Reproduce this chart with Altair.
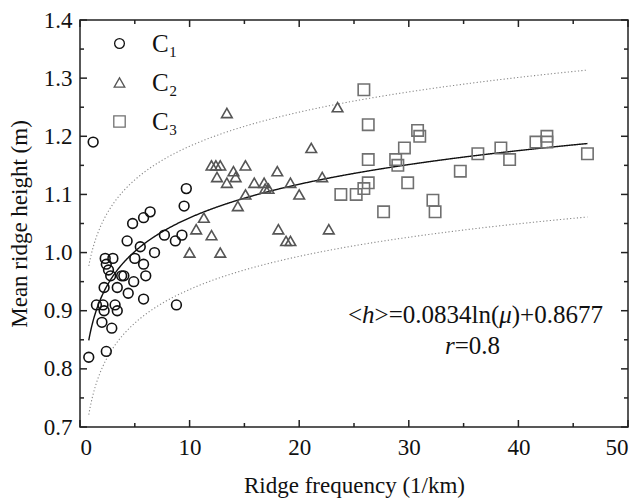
import altair as alt
import pandas as pd

# ---------------- data ----------------
groups = ["C₁", "C₂", "C₃"]

c1_freq = [1.2, 9.7, 9.5, 6.4, 5.8, 4.8, 4.3, 7.7, 9.3, 8.7, 5.5, 6.8, 5.0, 5.8,
           2.3, 3.0, 2.4, 2.6, 2.8, 3.8, 4.0, 6.0, 4.9, 2.2, 3.4, 4.4, 5.8, 1.5,
           2.1, 3.2, 2.2, 3.4, 8.8, 2.0, 2.9, 2.4, 0.8]
c1_height = [1.19, 1.11, 1.08, 1.07, 1.06, 1.05, 1.02, 1.03, 1.03, 1.02, 1.01, 1.00, 0.99, 0.98,
             0.99, 0.99, 0.98, 0.97, 0.96, 0.96, 0.96, 0.96, 0.95, 0.94, 0.94, 0.93, 0.92, 0.91,
             0.91, 0.91, 0.90, 0.90, 0.91, 0.88, 0.87, 0.83, 0.82]

c2_freq = [13.4, 21.1, 23.5, 12.0, 12.4, 12.8, 15.1, 14.0, 12.5, 14.2, 13.4, 18.0, 15.9, 16.8,
           19.2, 22.1, 16.9, 17.2, 20.0, 15.1, 14.4, 11.3, 10.6, 12.0, 18.1, 18.8, 19.2, 22.7,
           10.0, 12.8]
c2_height = [1.24, 1.18, 1.25, 1.15, 1.15, 1.15, 1.15, 1.14, 1.13, 1.13, 1.12, 1.14, 1.12, 1.12,
             1.12, 1.13, 1.11, 1.11, 1.10, 1.10, 1.08, 1.06, 1.04, 1.03, 1.04, 1.02, 1.02, 1.04,
             1.00, 1.00]

c3_freq = [25.9, 26.3, 30.8, 31.0, 29.6, 26.3, 28.8, 29.0, 36.3, 34.7, 26.3, 25.9, 25.2, 23.8,
           29.9, 32.2, 32.4, 27.7, 38.4, 39.2, 41.6, 42.6, 42.6, 46.3]
c3_height = [1.28, 1.22, 1.21, 1.20, 1.18, 1.16, 1.16, 1.15, 1.17, 1.14, 1.12, 1.11, 1.10, 1.10,
             1.12, 1.09, 1.07, 1.07, 1.18, 1.16, 1.19, 1.20, 1.19, 1.17]

# fitted curve shown on the chart: <h> = a ln(mu) + b
fit_a = 0.0834
fit_b = 0.8677
fit_from, fit_to = 0.8, 46.3

x_major = [0, 10, 20, 30, 40, 50]
x_minor = [5, 15, 25, 35, 45]
y_major = [0.7, 0.8, 0.9, 1.0, 1.1, 1.2, 1.3, 1.4]
y_minor = [0.75, 0.85, 0.95, 1.05, 1.15, 1.25, 1.35]

# ---------------- build tables ----------------
pts = pd.concat([
    pd.DataFrame({"freq": c1_freq, "height": c1_height, "group": groups[0]}),
    pd.DataFrame({"freq": c2_freq, "height": c2_height, "group": groups[1]}),
    pd.DataFrame({"freq": c3_freq, "height": c3_height, "group": groups[2]}),
], ignore_index=True)

W, H = 548, 407
FONT = "Liberation Serif"

xs = alt.Scale(domain=[0, 50], nice=False, zero=False)
ys = alt.Scale(domain=[0.7, 1.4], nice=False, zero=False)

x_axis = alt.Axis(values=x_major, ticks=False, domain=False, grid=False,
                  labelPadding=9, titlePadding=15, format="d",
                  title="Ridge frequency (1/km)")
y_axis = alt.Axis(values=y_major, ticks=False, domain=False, grid=False,
                  labelPadding=8, titlePadding=12, format=".1f",
                  title="Mean ridge height (m)")


def X(field):
    return alt.X(field, type="quantitative", scale=xs, axis=x_axis)


def Y(field):
    return alt.Y(field, type="quantitative", scale=ys, axis=y_axis)


# prediction band and fit
curve_base = alt.Chart(alt.sequence(fit_from, fit_to + 0.01, 0.05, as_="mu")).transform_calculate(
    h=f"{fit_a}*log(datum.mu)+{fit_b}",
    hw="0.123+0.001*pow(log(datum.mu)-2.0,2)",
).transform_calculate(
    up="datum.h+datum.hw",
    lo="datum.h-datum.hw",
)

fit_line = curve_base.mark_line(color="#111", strokeWidth=1.4).encode(x=X("mu"), y=Y("h"))
up_line = curve_base.mark_line(color="#888", strokeWidth=1.1, strokeDash=[1.2, 2.2]).encode(x=X("mu"), y=Y("up"))
lo_line = curve_base.mark_line(color="#888", strokeWidth=1.1, strokeDash=[1.2, 2.2]).encode(x=X("mu"), y=Y("lo"))

points = alt.Chart(pts).mark_point(filled=False, opacity=1, strokeWidth=1.6).encode(
    x=X("freq"),
    y=Y("height"),
    shape=alt.Shape("group:N",
                    scale=alt.Scale(domain=groups, range=["circle", "triangle-up", "square"]),
                    legend=alt.Legend(title=None)),
    color=alt.Color("group:N",
                    scale=alt.Scale(domain=groups, range=["#111111", "#555555", "#707070"]),
                    legend=alt.Legend(title=None)),
    size=alt.Size("group:N",
                  scale=alt.Scale(domain=groups, range=[95, 130, 85]),
                  legend=None),
)

# inward ticks on all four sides
xmaj = pd.DataFrame({"v": x_major})
xmin = pd.DataFrame({"v": x_minor})
ymaj = pd.DataFrame({"v": y_major})
ymin = pd.DataFrame({"v": y_minor})
tick_style = dict(color="#222", strokeWidth=1.5)
ticks = [
    alt.Chart(xmaj).mark_rule(**tick_style).encode(x=X("v"), y=alt.value(H), y2=alt.value(H - 7)),
    alt.Chart(xmin).mark_rule(**tick_style).encode(x=X("v"), y=alt.value(H), y2=alt.value(H - 4)),
    alt.Chart(xmaj).mark_rule(**tick_style).encode(x=X("v"), y=alt.value(0), y2=alt.value(7)),
    alt.Chart(xmin).mark_rule(**tick_style).encode(x=X("v"), y=alt.value(0), y2=alt.value(4)),
    alt.Chart(ymaj).mark_rule(**tick_style).encode(y=Y("v"), x=alt.value(0), x2=alt.value(7)),
    alt.Chart(ymin).mark_rule(**tick_style).encode(y=Y("v"), x=alt.value(0), x2=alt.value(4)),
    alt.Chart(ymaj).mark_rule(**tick_style).encode(y=Y("v"), x=alt.value(W), x2=alt.value(W - 7)),
    alt.Chart(ymin).mark_rule(**tick_style).encode(y=Y("v"), x=alt.value(W), x2=alt.value(W - 4)),
]

# equation annotation (pieces so that h, mu, r are italic)
eq_x, eq_y = 24.45, 0.879
r_x, r_y = 33.3, 0.825
eq_parts = [
    ("<", "normal", 0), ("h", "italic", 14.1), (">=0.0834ln(", "normal", 26.6),
    ("μ", "italic", 151.3), (")+0.8677", "normal", 163.8),
]
r_parts = [("r", "italic", 0), ("=0.8", "normal", 9.7)]

texts = []
for s, style, dx in eq_parts:
    texts.append(alt.Chart(pd.DataFrame({"x": [eq_x], "y": [eq_y], "t": [s]})).mark_text(
        font=FONT, fontSize=25, fontStyle=style, align="left", baseline="alphabetic", dx=dx, color="#111"
    ).encode(x=X("x"), y=Y("y"), text="t:N"))
for s, style, dx in r_parts:
    texts.append(alt.Chart(pd.DataFrame({"x": [r_x], "y": [r_y], "t": [s]})).mark_text(
        font=FONT, fontSize=25, fontStyle=style, align="left", baseline="alphabetic", dx=dx, color="#111"
    ).encode(x=X("x"), y=Y("y"), text="t:N"))

chart = alt.layer(up_line, lo_line, fit_line, *ticks, points, *texts).properties(
    width=W, height=H,
    autosize=alt.AutoSizeParams(type="none"),
    padding={"left": 72, "top": 12, "right": 6, "bottom": 72},
).configure_view(
    stroke="#222", strokeWidth=1.5
).configure_axis(
    labelFont=FONT, labelFontSize=23, labelColor="#111",
    titleFont=FONT, titleFontSize=23, titleFontWeight="normal", titleColor="#111",
).configure_legend(
    orient="none", legendX=27, legendY=11,
    labelFont=FONT, labelFontSize=25, labelColor="#111",
    symbolSize=60, symbolStrokeWidth=1.3, rowPadding=13, labelOffset=20,
    padding=0,
)

chart.save("out.html", embed_options={"renderer": "svg", "actions": False})
